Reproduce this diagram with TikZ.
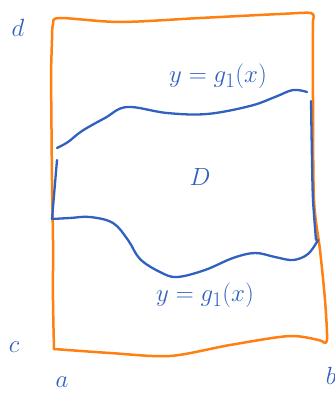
\documentclass[tikz,border=0pt]{standalone}
\usetikzlibrary{calc}
\definecolor{penorange}{RGB}{255,128,16}
\definecolor{penblue}{RGB}{48,96,192}
\tikzset{
  orangepen/.style={draw=penorange, line width=2.5pt, line cap=round, line join=round},
  bluepen/.style={draw=penblue, line width=2.3pt, line cap=round, line join=round},
  bluelabel/.style={text=penblue, inner sep=0pt, font=\fontsize{29}{31}\selectfont},
  bigletter/.style={text=penblue, inner sep=0pt, font=\fontsize{34}{36}\selectfont},
}
\begin{document}
\begin{tikzpicture}[x=1pt,y=-1pt]
\useasboundingbox (0,0) rectangle (335,394);
% orange rectangle
\draw[orangepen] plot[smooth, tension=0.5] coordinates {(51,72) (52,40) (53,24) (60,18) (120,22) (200,18) (280,14) (311,13) (313,20)};
\draw[orangepen] plot[smooth, tension=0.5] coordinates {(313,20) (313,100) (314,200) (320,250) (325,300) (327,340) (322,341)};
\draw[orangepen] plot[smooth, tension=0.5] coordinates {(322,341) (290,336) (230,345) (170,356) (110,353) (54,349)};
\draw[orangepen] plot[smooth, tension=0.5] coordinates {(54,349) (53,300) (53,240) (52,180) (51,72)};
% blue region boundary
\draw[bluepen] plot[smooth, tension=0.6] coordinates {(57,148) (68,142) (82,131) (105,118) (127,107) (167,113) (207,114) (250,106) (275,97) (293,90) (307,92)};
\draw[bluepen] plot[smooth, tension=0.6] coordinates {(52,219) (70,218) (90,217) (113,223) (128,240) (140,259) (160,272) (177,277) (205,270) (233,258) (255,253) (275,257) (293,260) (308,254) (318,240)};
\draw[bluepen] (57,160) -- (52,219);
\draw[bluepen] plot[smooth, tension=0.5] coordinates {(311,101) (312,160) (313,200) (316,240)};
% labels
\node[bigletter] (d) at (18,28) {$d$};
\node[bigletter] (c) at (14,347) {$c$};
\node[bigletter] (a) at (62,382) {$a$};
\node[bigletter] (b) at (331,376) {$b$};
\node[bigletter] (D) at (200,177) {$D$};
\node[bluelabel] (g1) at (218,76) {$y=g_1(x)$};
\node[bluelabel] (g2) at (205,295) {$y=g_1(x)$};
\end{tikzpicture}
\end{document}
